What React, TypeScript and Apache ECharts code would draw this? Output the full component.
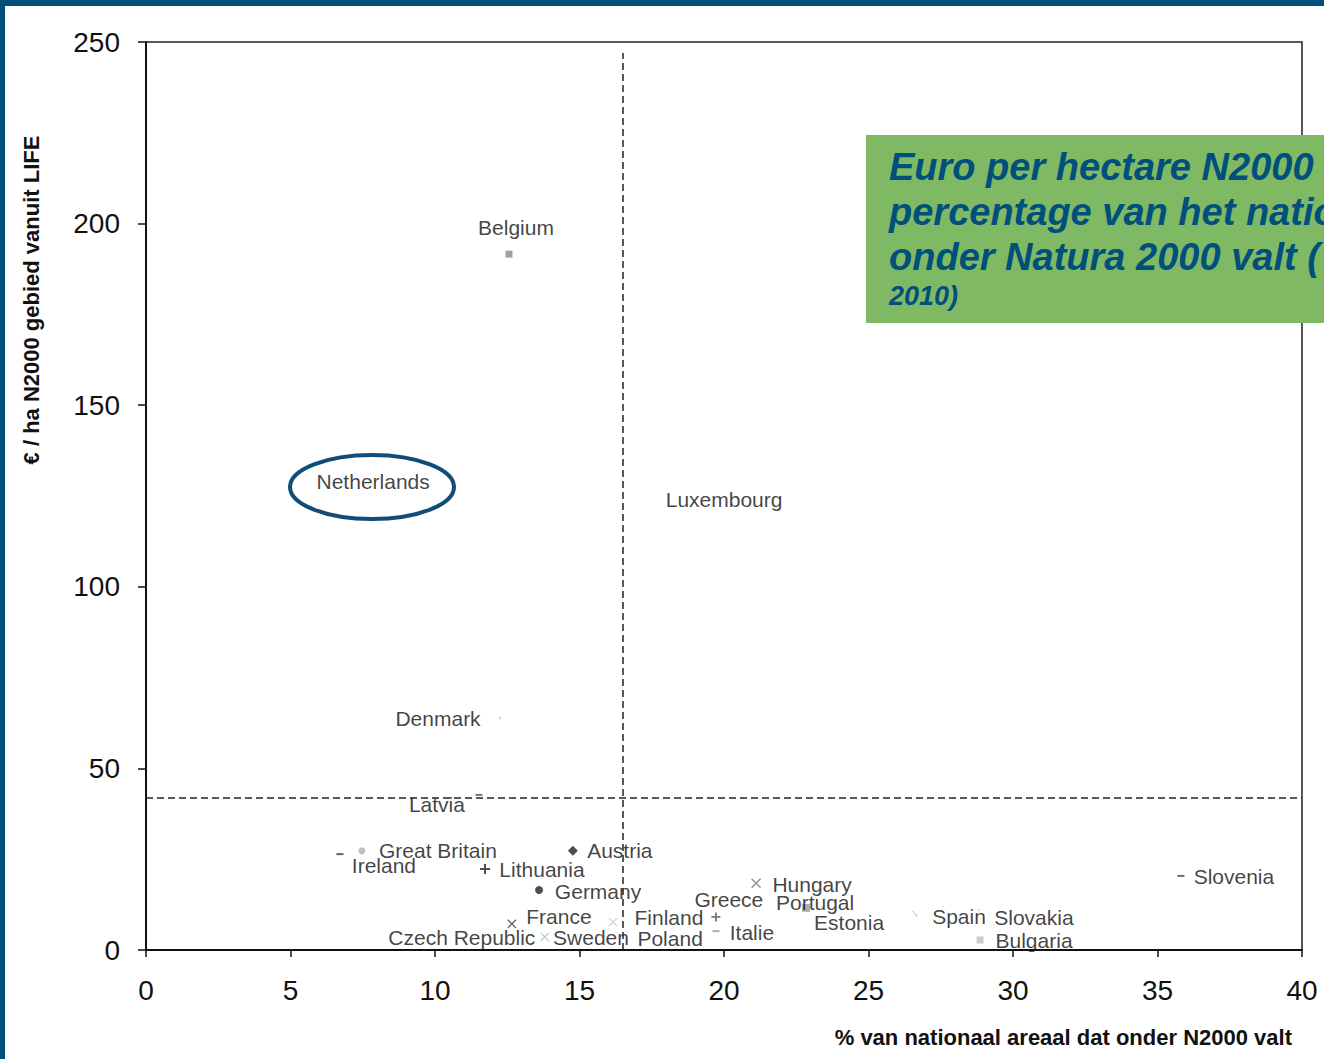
import React, { useEffect, useRef } from "react";
import * as echarts from "echarts";

// ---- Data ----
const countries = [
  "Belgium", "Netherlands", "Luxembourg", "Denmark", "Latvia", "Great Britain",
  "Ireland", "Lithuania", "Austria", "Germany", "France", "Czech Republic",
  "Sweden", "Finland", "Poland", "Greece", "Italie", "Hungary", "Portugal",
  "Estonia", "Spain", "Slovakia", "Bulgaria", "Slovenia",
];
// % of national area under Natura 2000
const pctArea = [
  12.56, 5.61, 17.72, 12.25, 11.52, 7.47,
  6.71, 11.73, 14.77, 13.6, 12.66, 13.8,
  16.16, 19.72, 19.45, 18.75, 19.72, 21.11, 22.84,
  22.91, 26.61, 28.82, 28.86, 35.81,
];
// euro per ha N2000 from LIFE
const euroPerHa = [
  191.6, 128.9, 123.9, 63.9, 42.7, 27.3,
  26.4, 22.3, 27.3, 16.5, 7.2, 3.6,
  7.7, 9.1, 3.3, 13.8, 5.2, 18.4, 11.6,
  7.7, 9.9, 11.0, 2.75, 20.4,
];
const xTicks = { min: 0, max: 40, interval: 5 };
const yTicks = { min: 0, max: 250, interval: 50 };
const avgPct = 16.5;
const avgEuro = 42;
const avgLineTop = 247;

const titleLines = ["Euro per hectare N2000", "percentage van het nationaal", "onder Natura 2000 valt ("];
const titleLastLine = "2010)";
const yName = "€ / ha N2000 gebied vanuit LIFE";
const xName = "% van nationaal areaal dat onder N2000 valt";

// ---- Styling / layout (not data) ----
const PLUS = "path://M4,0H6V4H10V6H6V10H4V6H0V4H4Z";
const CROSS = "path://M0,1L1,0L5,4L9,0L10,1L6,5L10,9L9,10L5,6L1,10L0,9L4,5Z";
const TICKMARK = "path://M0,0L2,0L10,6L8,7Z";
type Mk = { symbol: string; size: number | number[]; color: string };
const markerStyle: Record<string, Mk> = {
  Belgium: { symbol: "rect", size: 7, color: "#8a8a8a" },
  Netherlands: { symbol: "circle", size: 0, color: "transparent" },
  Luxembourg: { symbol: "circle", size: 0, color: "transparent" },
  Denmark: { symbol: "circle", size: 3, color: "#d0d0d0" },
  Latvia: { symbol: "rect", size: [7, 2], color: "#555" },
  "Great Britain": { symbol: "circle", size: 7, color: "#b0b0b0" },
  Ireland: { symbol: "rect", size: [7, 2], color: "#333" },
  Lithuania: { symbol: PLUS, size: 10, color: "#222" },
  Austria: { symbol: "diamond", size: 10, color: "#222" },
  Germany: { symbol: "circle", size: 8, color: "#222" },
  France: { symbol: CROSS, size: 9, color: "#333" },
  "Czech Republic": { symbol: CROSS, size: 9, color: "#bbb" },
  Sweden: { symbol: CROSS, size: 9, color: "#c8c8c8" },
  Finland: { symbol: PLUS, size: 9, color: "#555" },
  Poland: { symbol: "circle", size: 0, color: "transparent" },
  Greece: { symbol: "circle", size: 0, color: "transparent" },
  Italie: { symbol: "rect", size: [7, 2], color: "#999" },
  Hungary: { symbol: CROSS, size: 10, color: "#777" },
  Portugal: { symbol: "rect", size: 8, color: "#999" },
  Estonia: { symbol: "circle", size: 0, color: "transparent" },
  Spain: { symbol: TICKMARK, size: 6, color: "#bbb" },
  Slovakia: { symbol: "circle", size: 3, color: "#ddd" },
  Bulgaria: { symbol: "rect", size: 7, color: "#c0c0c0" },
  Slovenia: { symbol: "rect", size: [7, 2], color: "#444" },
};
// label centre offset from the marker, in px
const labelOffset: Record<string, number[]> = {
  Belgium: [7, -27], Netherlands: [65, 0], Luxembourg: [66, 0], Denmark: [-62, 1],
  Latvia: [-42, 10], "Great Britain": [76, 0], Ireland: [44, 11], Lithuania: [57, 0],
  Austria: [47, 0], Germany: [59, 1], France: [47, -7], "Czech Republic": [-83, 1],
  Sweden: [-22, 15], Finland: [-47, 1], Poland: [-38, 0], Greece: [41, 0],
  Italie: [36, 1], Hungary: [56, 1], Portugal: [9, -5], Estonia: [41, 0],
  Spain: [44, 2], Slovakia: [55, 7], Bulgaria: [54, 0], Slovenia: [53, 1],
};

const FONT = "'Liberation Sans', Arial, sans-serif";
const INK = "#111111";
const NAVY = "#004f7c";

export default function App() {
  const ref = useRef<HTMLDivElement>(null);
  useEffect(() => {
    if (!ref.current) return;
    const chart = echarts.init(ref.current, undefined, { renderer: "svg" });
    const items = countries.map((name, i) => {
      const m = markerStyle[name];
      return {
        name,
        value: [pctArea[i], euroPerHa[i]],
        symbol: m.symbol,
        symbolSize: m.size,
        itemStyle: { color: m.color },
        label: { offset: labelOffset[name] },
      };
    });
    chart.setOption({
      animation: false,
      backgroundColor: "#ffffff",
      grid: { left: 146, right: 22, top: 42, bottom: 109, show: true, borderColor: "#222", borderWidth: 1.5 },
      xAxis: {
        type: "value",
        min: xTicks.min, max: xTicks.max, interval: xTicks.interval,
        axisLine: { show: true, lineStyle: { color: "#111", width: 2 } },
        axisTick: { show: true, length: 7, lineStyle: { color: "#111", width: 1.5 } },
        axisLabel: { fontSize: 28, color: INK, margin: 26, fontFamily: FONT },
        splitLine: { show: false },
      },
      yAxis: {
        type: "value",
        min: yTicks.min, max: yTicks.max, interval: yTicks.interval,
        axisLine: { show: true, lineStyle: { color: "#111", width: 2 } },
        axisTick: { show: true, length: 8, lineStyle: { color: "#111", width: 1.5 } },
        axisLabel: { fontSize: 28, color: INK, margin: 26, fontFamily: FONT },
        splitLine: { show: false },
      },
      series: [
        {
          type: "scatter",
          data: items,
          emphasis: { disabled: true },
          label: {
            show: true,
            position: "inside",
            formatter: "{b}",
            fontSize: 21,
            color: INK,
            fontFamily: FONT,
          },
          markLine: {
            silent: true,
            symbol: "none",
            label: { show: false },
            lineStyle: { type: [7, 4], color: "#222", width: 1.5 },
            data: [
              [{ coord: [avgPct, yTicks.min] }, { coord: [avgPct, avgLineTop] }],
              [{ coord: [xTicks.min, avgEuro] }, { coord: [xTicks.max, avgEuro] }],
            ],
          },
        },
      ],
      graphic: [
        { type: "rect", z: 100, shape: { x: 0, y: 0, width: 1324, height: 6 }, style: { fill: NAVY } },
        { type: "rect", z: 100, shape: { x: 0, y: 0, width: 5, height: 1059 }, style: { fill: NAVY } },
        { type: "rect", z: 100, shape: { x: 866, y: 135, width: 460, height: 188 }, style: { fill: "#80b964" } },
        ...titleLines.map((t, i) => ({
          type: "text", z: 101, x: 889, y: 167 + i * 45,
          style: { text: t, fill: NAVY, font: `italic bold 38px ${FONT}`, verticalAlign: "middle", align: "left" },
        })),
        {
          type: "text", z: 101, x: 889, y: 296,
          style: { text: titleLastLine, fill: NAVY, font: `italic bold 27px ${FONT}`, verticalAlign: "middle", align: "left" },
        },
        {
          type: "ellipse", z: 100, shape: { cx: 372, cy: 487, rx: 82, ry: 32 },
          style: { fill: "none", stroke: "#0f4d78", lineWidth: 4 },
        },
        {
          type: "text", z: 101, x: 31, y: 300, rotation: Math.PI / 2,
          style: { text: yName, fill: INK, font: `bold 22px ${FONT}`, align: "center", verticalAlign: "middle" },
        },
        {
          type: "text", z: 101, x: 1292, y: 1037,
          style: { text: xName, fill: INK, font: `bold 22px ${FONT}`, align: "right", verticalAlign: "middle" },
        },
      ],
    });
    return () => chart.dispose();
  }, []);
  return <div ref={ref} style={{ position: "fixed", left: 0, top: 0, width: 1324, height: 1059 }} />;
}
